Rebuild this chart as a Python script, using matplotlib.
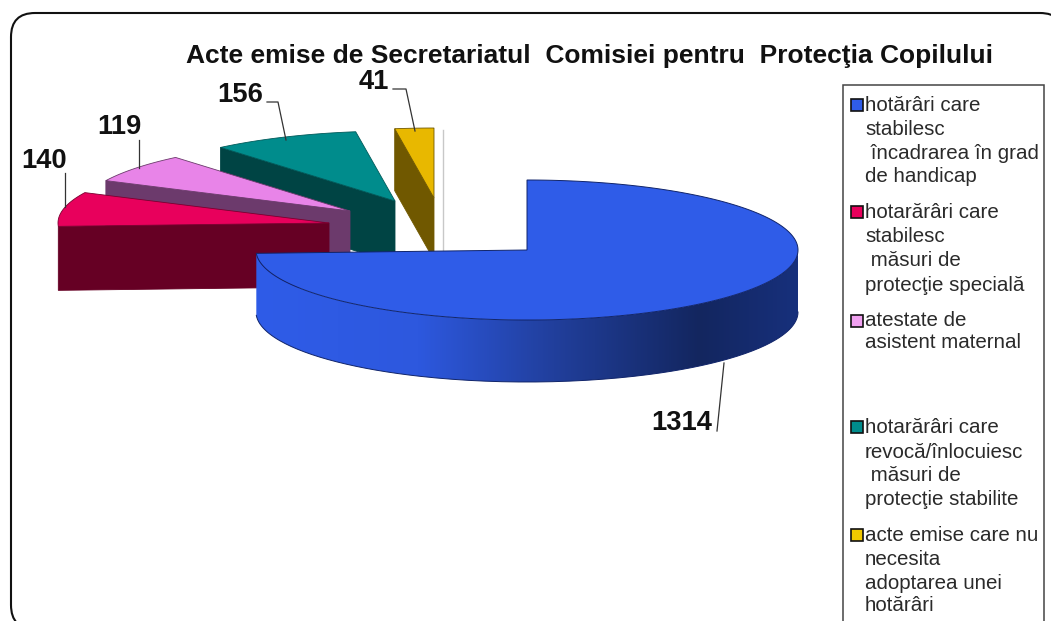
import numpy as np
import matplotlib
matplotlib.use("Agg")
import matplotlib.pyplot as plt
from matplotlib.patches import Polygon, Rectangle, FancyBboxPatch
from matplotlib.colors import LinearSegmentedColormap

plt.rcParams['font.family'] = ['Liberation Sans', 'DejaVu Sans']

# ---- data ----
values = [1314, 140, 119, 156, 41]
value_labels = ['1314', '140', '119', '156', '41']
legend_labels = [
    ['hotărâri care', 'stabilesc', ' încadrarea în grad', 'de handicap'],
    ['hotarărâri care', 'stabilesc', ' măsuri de', 'protecţie specială'],
    ['atestate de', 'asistent maternal'],
    ['hotarărâri care', 'revocă/înlocuiesc', ' măsuri de', 'protecţie stabilite'],
    ['acte emise care nu', 'necesita', 'adoptarea unei', 'hotărâri'],
]
title_text = 'Acte emise de Secretariatul  Comisiei pentru  Protecţia Copilului'

# ---- styles / layout ----
top_colors = ['#2f5ce8', '#e8005c', '#e884e8', '#008c8c', '#e8b800']
side_colors = ['#2f5ce8', '#660024', '#6c3a6c', '#004444', '#705800']
edge_colors = ['#10246a', '#7a0030', '#6c3a6c', '#005a5a', '#705800']
legend_swatch = ['#2f5ce8', '#e8005c', '#f0a0f0', '#008c8c', '#f0c800']
CX, CY, RX, RY, DEPTH = 527, 250, 271, 70, 62
offsets = [(0, 0), (-198, -27), (-177, -39), (-132, -49), (-93, -52)]
depths = [62, 64, 62, 62, 62]
legend_y = [[105, 129, 153, 176.5], [212, 236, 260, 285], [320.5, 342.5],
            [427, 452, 475, 499], [535, 559, 583, 605]]
label_pos = [(681.5, 423), (44, 161), (119, 127), (240, 95), (374, 82)]
leaders = [[(717, 431), (724, 363)],
           [(65, 173), (65, 207)],
           [(139, 140), (139, 168)],
           [(267, 102), (278, 102), (286, 140)],
           [(393, 89), (406, 89), (415, 131)]]

fig = plt.figure(figsize=(10.51, 6.21), dpi=100)
ax = fig.add_axes([0, 0, 1, 1])
ax.set_xlim(0, 1051)
ax.set_ylim(621, 0)
ax.axis('off')

# frame
ax.add_patch(FancyBboxPatch((11, 13), 1053, 616, boxstyle='round,pad=0,rounding_size=24',
                            fc='white', ec='#111111', lw=1.5, zorder=0))

# slice geometry from the values
frac = np.cumsum([0] + values) / sum(values) * 2 * np.pi


def rim(a0, a1, cx, cy):
    t = np.linspace(a0, a1, 200)
    return np.column_stack([cx + RX * np.sin(t), cy - RY * np.cos(t)])


# faint sliver next to the yellow slice
ax.plot([443, 443], [130, 253], color='#c8c8c8', lw=1, zorder=1)

# exploded slices, back to front
for i in [4, 3, 2, 1]:
    dx, dy = offsets[i]
    cx, cy = CX + dx, CY + dy
    arc = rim(frac[i], frac[i + 1], cx, cy)
    start = arc[0]
    d = depths[i]
    wall = np.array([start, (cx, cy), (cx, cy + d), (start[0], start[1] + d)])
    z = 2 + (4 - i) * 2
    ax.add_patch(Polygon(wall, closed=True, fc=side_colors[i], ec=side_colors[i], lw=0.6, zorder=z))
    ax.add_patch(Polygon(np.vstack([[(cx, cy)], arc]), closed=True, fc=top_colors[i],
                         ec=edge_colors[i], lw=0.6, zorder=z + 1))

# main slice: gradient outer wall
z = 12
lo = max(frac[0], np.pi / 2)
front = rim(lo, frac[1], CX, CY)
wall = np.vstack([front, front[::-1] + [0, DEPTH]])
wall_patch = Polygon(wall, closed=True, fc='none', ec='none', zorder=z)
ax.add_patch(wall_patch)
cmap = LinearSegmentedColormap.from_list('w', [(0, '#2f5ce8'), (0.3, '#2d58de'), (0.55, '#213f9c'),
                                               (0.82, '#13265f'), (1, '#17307c')])
img = ax.imshow(np.linspace(0, 1, 256)[None, :], extent=(CX - RX, CX + RX, 400, 170), cmap=cmap,
                aspect='auto', zorder=z)
img.set_clip_path(wall_patch)
ax.set_xlim(0, 1051)
ax.set_ylim(621, 0)
arc0 = rim(frac[0], frac[1], CX, CY)
ax.plot(wall[:, 0][len(front):], wall[:, 1][len(front):], color='#10246a', lw=0.7, zorder=z)
ax.add_patch(Polygon(np.vstack([[(CX, CY)], arc0]), closed=True, fc=top_colors[0],
                     ec=edge_colors[0], lw=0.7, zorder=z + 1))

# leaders and value labels
for pts, (x, y), s in zip(leaders, label_pos, value_labels):
    p = np.array(pts)
    ax.plot(p[:, 0], p[:, 1], color='#333333', lw=0.9, zorder=20)
    ax.text(x, y, s, ha='center', va='center', fontsize=19.7, fontweight='bold', color='#111111', zorder=21)

# title
ax.text(589, 56, title_text, ha='center', va='center', fontsize=19, fontweight='bold', color='#111111', zorder=21)

# legend
ax.add_patch(Rectangle((843, 85), 201, 560, fc='white', ec='#444444', lw=1.1, zorder=15))
for lines, ys, col in zip(legend_labels, legend_y, legend_swatch):
    ax.add_patch(Rectangle((850.5, ys[0] - 6), 12, 12, fc=col, ec='#111111', lw=1.2, zorder=16))
    for s, y in zip(lines, ys):
        ax.text(865, y + 6, s, ha='left', va='baseline', fontsize=14.8, color='#2a2a2a', zorder=16)

fig.savefig('out.png', dpi=100)
